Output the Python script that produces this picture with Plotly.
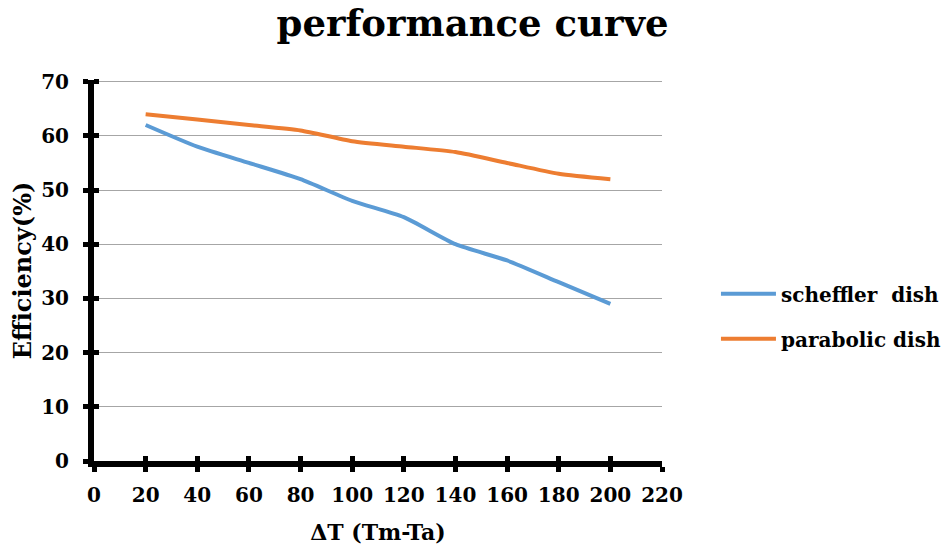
import plotly.graph_objects as go

dT = [20, 40, 60, 80, 100, 120, 140, 160, 180, 200]
scheffler = [62, 58, 55, 52, 48, 45, 40, 37, 33, 29]
parabolic = [64, 63, 62, 61, 59, 58, 57, 55, 53, 52]
x_ticks = list(range(0, 221, 20))
y_ticks = list(range(0, 71, 10))

FONT = "DejaVu Serif"

fig = go.Figure()
fig.add_trace(go.Scatter(x=dT, y=scheffler, mode="lines", name="scheffler  dish",
                         legendgroup="a",
                         line=dict(color="#5B9BD5", width=4, shape="spline", smoothing=0.6)))
fig.add_trace(go.Scatter(x=dT, y=parabolic, mode="lines", name="parabolic dish",
                         legendgroup="b",
                         line=dict(color="#ED7D31", width=4, shape="spline", smoothing=0.6)))

axis_font = dict(family=FONT, size=20, color="black", weight="bold")

fig.update_layout(
    width=945, height=545,
    margin=dict(l=94, r=283, t=80, b=84, autoexpand=False),
    paper_bgcolor="white", plot_bgcolor="white",
    title=dict(text="performance curve", x=0.5, xref="container", xanchor="center",
               y=0.957, yref="container", yanchor="middle",
               font=dict(family=FONT, size=37, color="black", weight="bold")),
    font=dict(family=FONT, color="black"),
    xaxis=dict(range=[0, 220], tickvals=x_ticks, ticktext=[str(v) for v in x_ticks],
               showgrid=False, zeroline=False, showline=True, linecolor="black", linewidth=6,
               ticks="outside", ticklen=5, tickwidth=5, tickcolor="black",
               tickfont=axis_font, ticklabelstandoff=6, automargin=False,
               title=dict(text="ΔT (Tm-Ta)", font=dict(family=FONT, size=22, color="black", weight="bold"), standoff=22)),
    yaxis=dict(range=[0, 70.3], tickvals=y_ticks, ticktext=[str(v) for v in y_ticks],
               showgrid=True, gridcolor="#A6A6A6", gridwidth=1,
               zeroline=False, showline=True, linecolor="black", linewidth=6,
               ticks="outside", ticklen=5, tickwidth=5, tickcolor="black",
               tickfont=axis_font, ticklabelstandoff=10, automargin=False,
               title=dict(text="Efficiency(%)", font=dict(family=FONT, size=24, color="black", weight="bold"), standoff=5)),
    xaxis2=dict(range=[0, 220], overlaying="x", tickvals=x_ticks, showticklabels=False,
                showgrid=False, zeroline=False, ticks="inside", ticklen=5, tickwidth=5,
                tickcolor="black", side="bottom", automargin=False),
    yaxis2=dict(range=[0, 70.3], overlaying="y", tickvals=y_ticks, showticklabels=False,
                showgrid=False, zeroline=False, ticks="inside", ticklen=5, tickwidth=5,
                tickcolor="black", side="left", automargin=False),
    legend=dict(x=1.095, y=0.38, xanchor="left", yanchor="middle",
                font=dict(family=FONT, size=20, color="black", weight="bold"),
                tracegroupgap=16, itemwidth=55, bgcolor="rgba(0,0,0,0)"),
    showlegend=True,
)
fig.add_trace(go.Scatter(x=[0], y=[0], xaxis="x2", yaxis="y2", mode="markers",
                         marker=dict(opacity=0), showlegend=False, hoverinfo="skip"))

fig.write_html("out.html")
